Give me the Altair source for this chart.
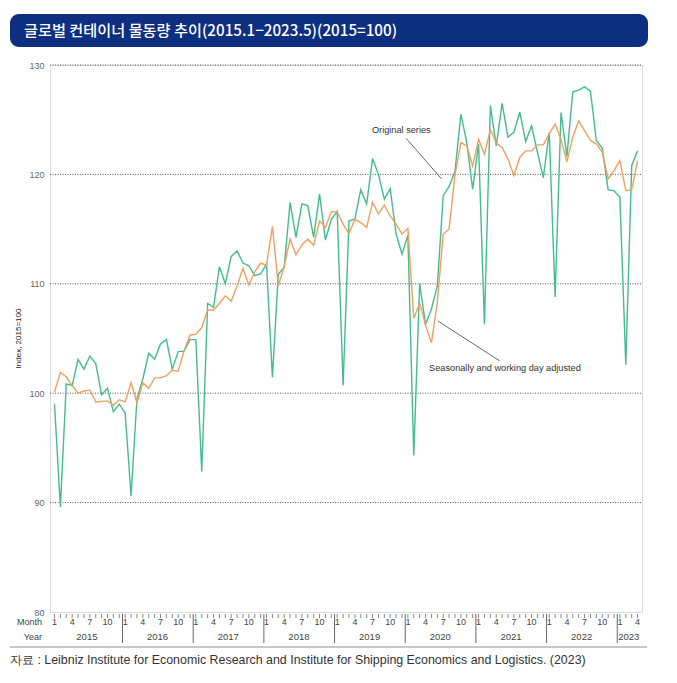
import altair as alt
import pandas as pd

# ---- data ----
years = [2015, 2016, 2017, 2018, 2019, 2020, 2021, 2022, 2023]
original = [
    99.0, 89.6, 100.85, 100.7, 103.1, 102.2, 103.4, 102.7, 99.85, 100.45, 98.3, 99.0,
    98.2, 90.6, 99.5, 101.3, 103.65, 103.1, 104.5, 104.9, 102.2, 103.8, 103.85, 104.9,
    104.9, 92.85, 108.2, 107.85, 111.55, 110.0, 112.5, 113.0, 111.9, 111.65, 110.75, 110.9,
    111.8, 101.45, 110.9, 111.5, 117.45, 114.25, 117.3, 117.15, 114.25, 118.2, 114.0, 115.9,
    116.6, 100.7, 115.75, 115.9, 118.6, 117.3, 121.45, 120.0, 117.75, 118.7, 114.55, 112.7,
    114.45, 94.3, 110.0, 106.3, 107.7, 109.8, 118.05, 118.9, 120.3, 125.5, 122.9, 118.65,
    122.8, 106.3, 126.3, 122.6, 126.5, 123.4, 123.85, 125.7, 123.0, 124.45, 122.0, 119.7,
    123.85, 108.8, 125.65, 121.65, 127.55, 127.7, 128.0, 127.6, 123.1, 122.4, 118.6, 118.5,
    117.9, 102.6, 120.8, 122.15,
]
adjusted = [
    100.1, 101.9, 101.5, 100.7, 100.0, 100.2, 100.3, 99.2, 99.25, 99.3, 98.9, 99.4,
    99.2, 100.95, 99.1, 100.95, 100.45, 101.4, 101.4, 101.6, 102.1, 102.0, 103.9, 105.3,
    105.4, 106.0, 107.6, 107.6, 108.2, 108.9, 108.4, 109.8, 111.4, 109.9, 111.1, 111.9,
    111.7, 115.25, 109.8, 111.6, 114.1, 112.65, 113.55, 114.1, 113.5, 115.75, 115.15, 116.6,
    116.55, 115.45, 114.6, 115.9, 115.6, 115.15, 117.45, 116.4, 117.2, 116.2, 115.45, 114.55,
    115.05, 106.85, 108.25, 106.2, 104.6, 108.3, 114.55, 115.0, 120.0, 122.9, 122.6, 120.8,
    123.2, 121.85, 124.1, 122.9, 122.45, 121.4, 119.9, 121.55, 122.15, 122.15, 122.7, 122.7,
    123.7, 124.6, 123.2, 121.15, 123.4, 124.9, 124.0, 123.1, 122.8, 122.05, 119.6, 120.35,
    121.25, 118.5, 118.6, 121.25,
]
series_names = ["Original series", "Seasonally and working day adjusted"]
month_labels = ["1", "4", "7", "10"]
y_ticks = [80, 90, 100, 110, 120, 130]
grid_values = [90, 100, 110, 120, 130]
title_text = "글로벌 컨테이너 물동량 추이(2015.1−2023.5)(2015=100)"
source_text = "자료 : Leibniz Institute for Economic Research and Institute for Shipping Economics and Logistics. (2023)"

n = len(original)
rows = []
for i in range(n):
    rows.append({"m": i, "value": original[i], "series": series_names[0]})
for i in range(n):
    rows.append({"m": i, "value": adjusted[i], "series": series_names[1]})
df = pd.DataFrame(rows)

W, H = 592, 547
xs = alt.Scale(domain=[-0.764, 99.75], nice=False, zero=False)
ys = alt.Scale(domain=[80, 130], nice=False, zero=False)
FONT = "Liberation Sans"

grid = alt.Chart(pd.DataFrame({"v": grid_values})).mark_rule(
    color="#444", strokeDash=[1, 1.5], strokeWidth=0.9
).encode(y=alt.Y("v:Q", scale=ys), x=alt.value(0), x2=alt.value(W))

yaxis = alt.Chart(pd.DataFrame({"v": y_ticks})).mark_point(opacity=0).encode(
    y=alt.Y("v:Q", scale=ys, axis=alt.Axis(
        values=y_ticks, ticks=False, domain=False, grid=False,
        labelColor="#666", labelFontSize=9, labelFont=FONT, labelPadding=6,
        title="Index, 2015=100", titleFontSize=8, titleFont=FONT,
        titleFontWeight="normal", titleColor="#222", titleX=-32, titleY=273,
        titleAlign="center", titleBaseline="middle")),
    x=alt.value(0),
)

lines = alt.Chart(df).mark_line(strokeWidth=1.4).encode(
    x=alt.X("m:Q", scale=xs, axis=None),
    y=alt.Y("value:Q", scale=ys),
    color=alt.Color("series:N", scale=alt.Scale(domain=series_names,
                                                 range=["#45bb90", "#f0a060"]), legend=None),
    order=alt.Order("m:Q"),
)

# annotations
ann_text = pd.DataFrame({
    "m": [53.9, 63.6],
    "v": [124.1, 102.3],
    "t": series_names,
})
ann = alt.Chart(ann_text).mark_text(align="left", baseline="middle", fontSize=9.2,
                                    font=FONT, color="#333").encode(
    x=alt.X("m:Q", scale=xs), y=alt.Y("v:Q", scale=ys), text="t:N")
lead = pd.DataFrame({
    "m": [59.7, 65.1], "v": [123.3, 106.6],
    "m2": [65.7, 75.6], "v2": [119.6, 102.95],
})
leaders = alt.Chart(lead).mark_rule(color="#555", strokeWidth=0.9).encode(
    x=alt.X("m:Q", scale=xs), y=alt.Y("v:Q", scale=ys), x2="m2:Q", y2="v2:Q")

# x ruler: month ticks
ticks_df = pd.DataFrame({"m": list(range(n))})
mticks = alt.Chart(ticks_df).mark_rule(color="#666", strokeWidth=0.8).encode(
    x=alt.X("m:Q", scale=xs),
    y=alt.value(H + 2),
    y2=alt.value(H + 6),
)
mlab_rows = []
for yi, yr in enumerate(years):
    for k, lab in enumerate(month_labels):
        m = yi * 12 + k * 3
        if m < n:
            mlab_rows.append({"m": m, "t": lab})
mlabs = alt.Chart(pd.DataFrame(mlab_rows)).mark_text(
    fontSize=9, font=FONT, color="#444", baseline="middle").encode(
    x=alt.X("m:Q", scale=xs), y=alt.value(H + 10), text="t:N")

sep_df = pd.DataFrame({"m": [yi * 12 - 0.45 for yi in range(1, len(years))]})
seps = alt.Chart(sep_df).mark_rule(color="#666", strokeWidth=1).encode(
    x=alt.X("m:Q", scale=xs), y=alt.value(H + 2), y2=alt.value(H + 31))

ylab_rows = []
for yi, yr in enumerate(years):
    last = min(yi * 12 + 11, n - 1)
    ylab_rows.append({"m": (yi * 12 + last) / 2, "t": str(yr)})
ylabs = alt.Chart(pd.DataFrame(ylab_rows)).mark_text(
    fontSize=9.5, font=FONT, color="#444", baseline="middle").encode(
    x=alt.X("m:Q", scale=xs), y=alt.value(H + 25), text="t:N")

side = alt.Chart(pd.DataFrame({"t": ["Month", "Year"], "yy": [H + 10, H + 25]})).mark_text(
    fontSize=9, font=FONT, color="#444", align="right", baseline="middle").encode(
    x=alt.value(-8), y=alt.Y("yy:Q", scale=None), text="t:N")

one = pd.DataFrame({"a": [0]})
bottom_line = alt.Chart(one).mark_rule(color="#c8c8c8", strokeWidth=2).encode(
    x=alt.value(-40), x2=alt.value(597), y=alt.value(H + 35))
source = alt.Chart(one).mark_text(fontSize=12.4, font=FONT, color="#333",
                                  align="left", baseline="middle").encode(
    x=alt.value(-40), y=alt.value(H + 48), text=alt.value(source_text))

banner = alt.Chart(one).mark_rect(color="#0e2f80", cornerRadius=9).encode(
    x=alt.value(-40), x2=alt.value(598), y=alt.value(-51), y2=alt.value(-18))
title = alt.Chart(one).mark_text(fontSize=15.2, font="Noto Sans CJK KR", fontWeight=500,
                                 color="white", align="left", baseline="middle").encode(
    x=alt.value(-26), y=alt.value(-34), text=alt.value(title_text))

chart = alt.layer(
    banner, title, grid, yaxis, lines, leaders, ann,
    mticks, mlabs, seps, ylabs, side, bottom_line, source,
).properties(
    width=W, height=H,
    padding={"left": 42, "top": 57, "right": 27, "bottom": 70},
    autosize=alt.AutoSizeParams(type="none"),
).configure_view(stroke=None).configure(background="white")

chart.save("out.html", embed_options={"renderer": "svg", "actions": False})
